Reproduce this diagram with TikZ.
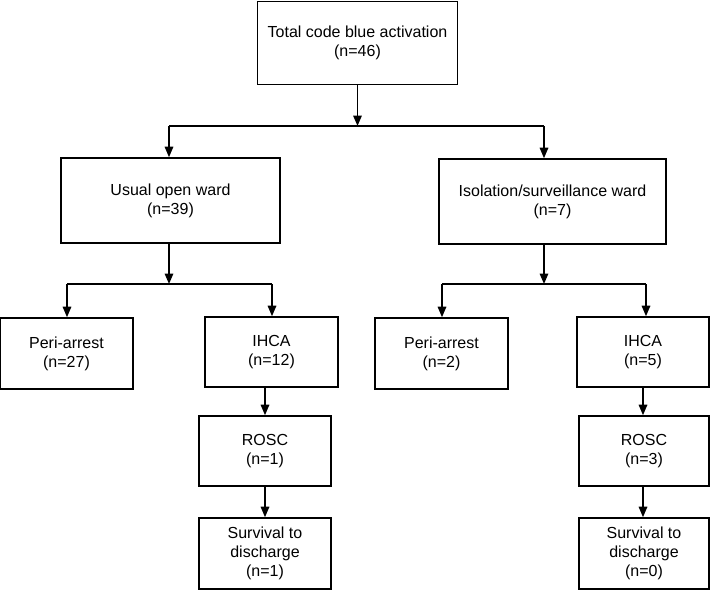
\documentclass[tikz,border=0pt]{standalone}
\usepackage{fontspec}
\setmainfont{Liberation Sans}
\usetikzlibrary{arrows.meta}

\begin{document}
\begin{tikzpicture}[x=1pt,y=1pt,yscale=-1,xscale=1,
	box/.style={draw, line width=1.6pt, align=center, inner sep=0pt, font=\fontsize{16}{19}\selectfont},
	arr/.style={line width=1.6pt, -{Triangle[width=8.5pt,length=10.5pt]}},
	ln/.style={line width=1.6pt}]
\useasboundingbox (0,0) rectangle (710,590);

%Shape: Rectangle [total]
\node[box, minimum width=200pt, minimum height=83pt] (total) at (357.5,43) {Total code blue activation\\(n=46)};
%Shape: Rectangle [wards]
\node[box, minimum width=219pt, minimum height=85pt] (usual) at (170.5,200.5) {Usual open ward\\(n=39)};
\node[box, minimum width=227pt, minimum height=85pt] (iso) at (552.5,201.5) {Isolation/surveillance ward\\(n=7)};
%Shape: Rectangle [usual ward branch]
\node[box, minimum width=133pt, minimum height=71pt] (peri1) at (66.5,353.5) {Peri-arrest\\(n=27)};
\node[box, minimum width=133pt, minimum height=70pt] (ihca1) at (271.5,352) {IHCA\\(n=12)};
\node[box, minimum width=132pt, minimum height=70pt] (rosc1) at (265,451) {ROSC\\(n=1)};
\node[box, minimum width=132pt, minimum height=71pt] (surv1) at (265,553.5) {Survival to\\discharge\\(n=1)};
%Shape: Rectangle [isolation ward branch]
\node[box, minimum width=133pt, minimum height=71pt] (peri2) at (441.5,353.5) {Peri-arrest\\(n=2)};
\node[box, minimum width=132pt, minimum height=70pt] (ihca2) at (643,352) {IHCA\\(n=5)};
\node[box, minimum width=130pt, minimum height=70pt] (rosc2) at (644,451) {ROSC\\(n=3)};
\node[box, minimum width=130pt, minimum height=71pt] (surv2) at (644,553.5) {Survival to\\discharge\\(n=0)};

%Straight Lines [split total]
\coordinate (j1) at (357.5,126);
\coordinate (j1l) at (169,126);
\coordinate (j1r) at (544,126);
\draw[arr] (total.south) -- (j1);
\draw[ln] (j1l) -- (j1r);
\draw[arr] (j1l) -- (j1l |- usual.north);
\draw[arr] (j1r) -- (j1r |- iso.north);

%Straight Lines [split usual]
\coordinate (j2) at (169,284);
\coordinate (j2l) at (67,284);
\coordinate (j2r) at (272,284);
\draw[arr] (j2 |- usual.south) -- (j2);
\draw[ln] (j2l) -- (j2r);
\draw[arr] (j2l) -- (j2l |- peri1.north);
\draw[arr] (j2r) -- (j2r |- ihca1.north);

%Straight Lines [split isolation]
\coordinate (j3) at (544,284);
\coordinate (j3l) at (442,284);
\coordinate (j3r) at (646,284);
\draw[arr] (j3 |- iso.south) -- (j3);
\draw[ln] (j3l) -- (j3r);
\draw[arr] (j3l) -- (j3l |- peri2.north);
\draw[arr] (j3r) -- (j3r |- ihca2.north);

%Straight Lines [chains]
\draw[arr] (rosc1.north |- ihca1.south) -- (rosc1.north);
\draw[arr] (rosc1.south) -- (surv1.north);
\draw[arr] (ihca2.south) -- (ihca2.south |- rosc2.north);
\draw[arr] (ihca2.south |- rosc2.south) -- (ihca2.south |- surv2.north);

\end{tikzpicture}
\end{document}
